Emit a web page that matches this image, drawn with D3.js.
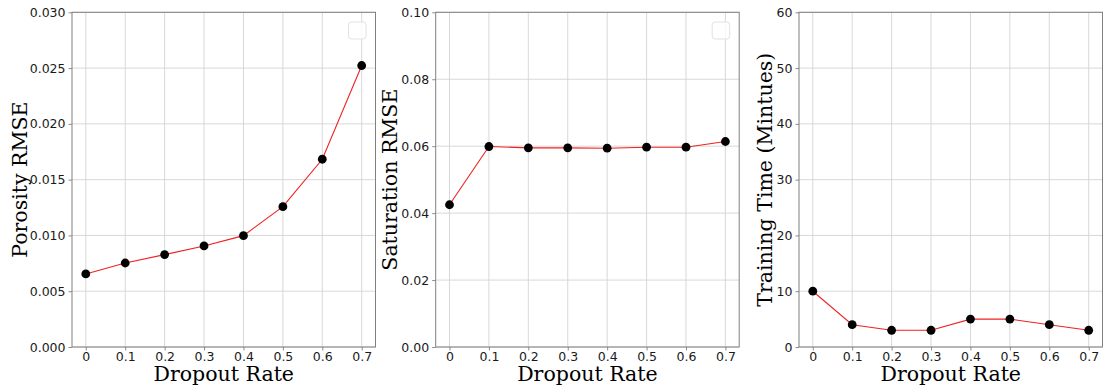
<!DOCTYPE html>
<html>
<head>
<meta charset="utf-8">
<script src="https://cdn.jsdelivr.net/npm/d3@7"></script>
<style>
  html, body { margin: 0; padding: 0; background: #fff; }
  svg { display: block; }
</style>
</head>
<body>
<svg id="chart" width="1105" height="390"></svg>
<script>
// Dropout rates shared by all three panels
const dropoutRates = [0, 0.1, 0.2, 0.3, 0.4, 0.5, 0.6, 0.7];
const xTickLabels = ["0", "0.1", "0.2", "0.3", "0.4", "0.5", "0.6", "0.7"];

// Series values
const porosityRmse = [0.00655, 0.00753, 0.00828, 0.00906, 0.00998, 0.01258, 0.01683, 0.02523];
const saturationRmse = [0.0425, 0.0599, 0.0595, 0.0595, 0.0594, 0.0597, 0.0597, 0.0614];
const trainingMinutes = [10, 4, 3, 3, 5, 5, 4, 3];

// Y tick values and labels
const porosityTicks = [0, 0.005, 0.010, 0.015, 0.020, 0.025, 0.030];
const porosityTickLabels = ["0.000", "0.005", "0.010", "0.015", "0.020", "0.025", "0.030"];
const saturationTicks = [0, 0.02, 0.04, 0.06, 0.08, 0.10];
const saturationTickLabels = ["0.00", "0.02", "0.04", "0.06", "0.08", "0.10"];
const timeTicks = [0, 10, 20, 30, 40, 50, 60];
const timeTickLabels = ["0", "10", "20", "30", "40", "50", "60"];

const yLabels = ["Porosity RMSE", "Saturation RMSE", "Training Time (Mintues)"];
const xLabel = "Dropout Rate";

const panels = [
  { values: porosityRmse, ticks: porosityTicks, tickLabels: porosityTickLabels, ymax: 0.030, yLabel: yLabels[0], left: 72, labelX: 26.5, legend: true },
  { values: saturationRmse, ticks: saturationTicks, tickLabels: saturationTickLabels, ymax: 0.10, yLabel: yLabels[1], left: 435.7, labelX: 396.5, legend: true },
  { values: trainingMinutes, ticks: timeTicks, tickLabels: timeTickLabels, ymax: 60, yLabel: yLabels[2], left: 799, labelX: 771.5, legend: false }
];

const svg = d3.select("#chart");
const plotW = 303.5, plotTop = 12.3, plotBottom = 347;
const gridColor = "#d4d4d4";
const spineColor = "#808080";

panels.forEach(p => {
  const x = d3.scaleLinear().domain([-0.035, 0.735]).range([p.left, p.left + plotW]);
  const y = d3.scaleLinear().domain([0, p.ymax]).range([plotBottom, plotTop]);

  const g = svg.append("g");

  // grid lines
  g.append("g").selectAll("line").data(dropoutRates).join("line")
    .attr("x1", d => x(d)).attr("x2", d => x(d))
    .attr("y1", plotTop).attr("y2", plotBottom)
    .attr("stroke", gridColor).attr("stroke-width", 0.9);
  g.append("g").selectAll("line").data(p.ticks).join("line")
    .attr("x1", p.left).attr("x2", p.left + plotW)
    .attr("y1", d => y(d)).attr("y2", d => y(d))
    .attr("stroke", gridColor).attr("stroke-width", 0.9);

  // axes
  const xAxis = d3.axisBottom(x).tickValues(dropoutRates)
    .tickFormat((d, i) => xTickLabels[i]).tickSizeInner(3.5).tickSizeOuter(0).tickPadding(2);
  const yAxis = d3.axisLeft(y).tickValues(p.ticks)
    .tickFormat((d, i) => p.tickLabels[i]).tickSizeInner(3.5).tickSizeOuter(0).tickPadding(3);

  const gx = g.append("g").attr("transform", `translate(0,${plotBottom})`).call(xAxis);
  const gy = g.append("g").attr("transform", `translate(${p.left},0)`).call(yAxis);
  [gx, gy].forEach(a => {
    a.select(".domain").remove();
    a.selectAll(".tick line").attr("stroke", spineColor).attr("stroke-width", 0.9);
    a.selectAll(".tick text").attr("fill", "#1a1a1a")
      .style("font-family", "'DejaVu Sans', sans-serif").style("font-size", "12.5px");
  });

  // frame
  g.append("rect").attr("x", p.left).attr("y", plotTop).attr("width", plotW).attr("height", plotBottom - plotTop)
    .attr("fill", "none").attr("stroke", spineColor).attr("stroke-width", 1);

  // empty legend frame
  if (p.legend) {
    g.append("rect").attr("x", p.left + plotW - 27).attr("y", 22).attr("width", 17.5).attr("height", 17)
      .attr("rx", 3).attr("fill", "#fff").attr("fill-opacity", 0.8)
      .attr("stroke", "#e2e2e2").attr("stroke-width", 1);
  }

  // series line
  const line = d3.line().x((d, i) => x(dropoutRates[i])).y(d => y(d));
  g.append("path").datum(p.values).attr("d", line)
    .attr("fill", "none").attr("stroke", "#ee2222").attr("stroke-width", 1.1);

  // markers
  g.append("g").selectAll("circle").data(p.values).join("circle")
    .attr("cx", (d, i) => x(dropoutRates[i])).attr("cy", d => y(d)).attr("r", 4.4)
    .attr("fill", "#000");

  // axis labels
  g.append("text").attr("x", p.left + plotW / 2).attr("y", 380.5)
    .attr("text-anchor", "middle")
    .style("font-family", "'DejaVu Serif', serif").style("font-size", "20.5px")
    .attr("fill", "#000").text(xLabel);
  g.append("text").attr("transform", `translate(${p.labelX},${(plotTop + plotBottom) / 2}) rotate(-90)`)
    .attr("text-anchor", "middle")
    .style("font-family", "'DejaVu Serif', serif").style("font-size", "20.5px")
    .attr("fill", "#000").text(p.yLabel);
});
</script>
</body>
</html>
